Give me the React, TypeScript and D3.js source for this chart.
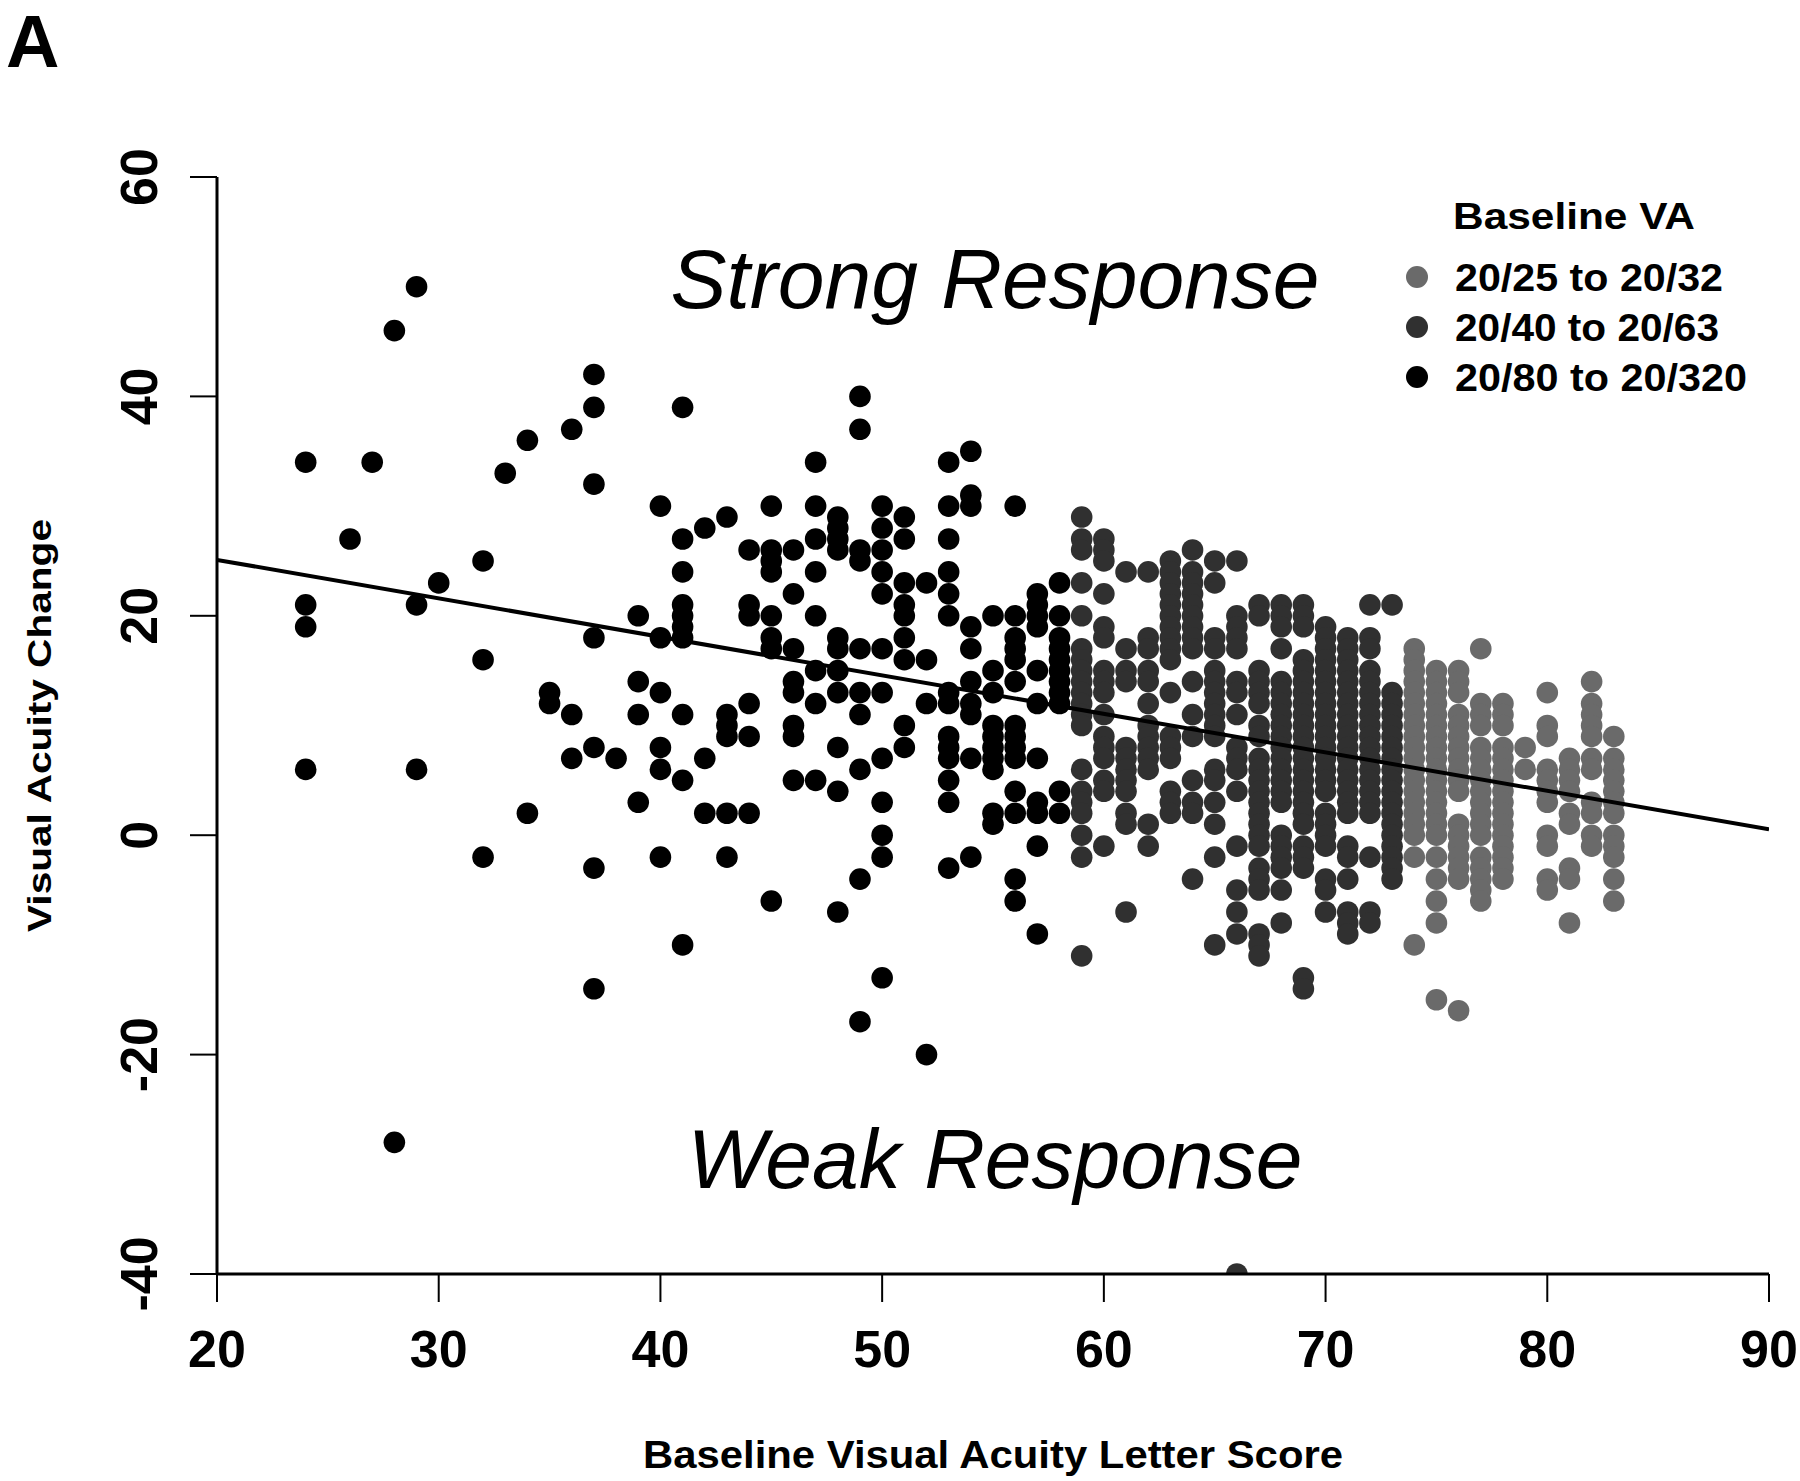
import React from "react";
import * as d3 from "d3";

const W = 1800;
const H = 1481;

const xDomain: [number, number] = [20, 90];
const yDomain: [number, number] = [-40, 60];
const xTicks = [20, 30, 40, 50, 60, 70, 80, 90];
const yTicks = [-40, -20, 0, 20, 40, 60];
const xTitle = "Baseline Visual Acuity Letter Score";
const yTitle = "Visual Acuity Change";
const panelLabel = "A";
const strongLabel = "Strong Response";
const weakLabel = "Weak Response";
const legendTitle = "Baseline VA";
const legendLabels = ["20/25 to 20/32", "20/40 to 20/63", "20/80 to 20/320"];
const legendColors = ["#6a6a6a", "#303030", "#000000"];

// regression line end points [x, y]
const fitLine: [number, number][] = [
  [20, 25.1],
  [90, 0.53],
];

// 20/80 to 20/320 : [letter score, [VA changes]]
const poorVA: [number, number[]][] = [
  [24, [34, 21, 19, 6]],
  [26, [27]],
  [27, [34]],
  [28, [46, -28]],
  [29, [50, 21, 6]],
  [30, [23]],
  [32, [25, 16, -2]],
  [33, [33]],
  [34, [36, 2]],
  [35, [13, 12]],
  [36, [37, 11, 7]],
  [37, [42, 39, 32, 18, 8, -3, -14]],
  [38, [7]],
  [39, [20, 14, 11, 3]],
  [40, [30, 18, 13, 8, 6, -2]],
  [41, [39, 27, 24, 21, 20, 19, 18, 11, 5, -10]],
  [42, [28, 7, 2]],
  [43, [29, 11, 10, 9, 2, -2]],
  [44, [26, 21, 20, 12, 9, 2]],
  [45, [30, 26, 25, 24, 20, 18, 17, -6]],
  [46, [26, 22, 17, 14, 13, 10, 9, 5]],
  [47, [34, 30, 27, 24, 20, 15, 12, 5]],
  [48, [29, 28, 27, 26, 18, 17, 15, 13, 8, 4, -7]],
  [49, [40, 37, 26, 25, 17, 13, 11, 6, -4, -17]],
  [50, [30, 28, 26, 24, 22, 17, 13, 7, 3, 0, -2, -13]],
  [51, [29, 27, 23, 21, 20, 18, 16, 10, 8]],
  [52, [23, 16, 12, -20]],
  [53, [34, 30, 27, 24, 22, 20, 13, 12, 9, 8, 7, 5, 3, -3]],
  [54, [35, 31, 30, 19, 17, 14, 12, 11, 7, -2]],
  [55, [20, 15, 13, 10, 9, 8, 7, 6, 2, 1]],
  [56, [30, 20, 18, 17, 16, 14, 10, 9, 8, 7, 4, 2, -4, -6]],
  [57, [22, 21, 20, 19, 15, 12, 7, 3, 2, -1, -9]],
  [58, [23, 20, 18, 17, 16, 15, 14, 13, 12, 4, 2]],
];

// 20/40 to 20/63
const moderateVA: [number, number[]][] = [
  [59, [29, 27, 26, 23, 20, 17, 16, 15, 14, 13, 12, 11, 10, 6, 4, 3, 2, 0, -2, -11]],
  [60, [27, 26, 25, 22, 19, 18, 15, 14, 13, 11, 9, 8, 7, 5, 4, -1]],
  [61, [24, 17, 15, 14, 8, 7, 6, 5, 4, 2, 1, -7]],
  [62, [24, 18, 17, 15, 14, 12, 10, 9, 8, 7, 6, 1, -1]],
  [63, [25, 24, 23, 22, 21, 20, 19, 18, 17, 16, 13, 9, 8, 7, 4, 3, 2]],
  [64, [26, 24, 23, 22, 21, 20, 19, 18, 17, 14, 11, 9, 5, 3, 2, -4]],
  [65, [25, 23, 18, 17, 15, 14, 13, 12, 11, 10, 9, 6, 5, 3, 1, -2, -10]],
  [66, [25, 20, 19, 18, 17, 14, 13, 11, 8, 7, 6, 4, -1, -5, -7, -9, -40]],
  [67, [21, 20, 15, 14, 13, 12, 10, 9, 7, 6, 5, 4, 3, 2, 1, 0, -1, -3, -4, -5, -9, -10, -11]],
  [68, [21, 20, 19, 17, 14, 13, 12, 11, 10, 9, 8, 7, 6, 5, 4, 3, 0, -1, -2, -3, -5, -8]],
  [69, [21, 20, 19, 16, 15, 14, 13, 12, 11, 10, 9, 8, 7, 6, 5, 4, 3, 2, 1, -1, -2, -3, -13, -14]],
  [70, [19, 18, 17, 16, 15, 14, 13, 12, 11, 10, 9, 8, 7, 6, 5, 4, 2, 1, 0, -1, -4, -5, -7]],
  [71, [18, 17, 16, 15, 14, 13, 12, 11, 10, 9, 8, 7, 6, 5, 4, 3, 2, -1, -2, -4, -7, -8, -9]],
  [72, [21, 18, 17, 15, 14, 13, 12, 11, 10, 9, 8, 7, 6, 5, 4, 3, 2, -2, -7, -8]],
  [73, [21, 13, 12, 11, 10, 9, 8, 7, 6, 5, 4, 3, 2, 1, 0, -1, -2, -3, -4]],
];

// 20/25 to 20/32
const goodVA: [number, number[]][] = [
  [74, [17, 16, 15, 14, 13, 12, 11, 10, 9, 8, 7, 6, 5, 4, 3, 2, 1, 0, -2, -10]],
  [75, [15, 14, 13, 12, 11, 10, 9, 8, 7, 6, 5, 4, 3, 2, 1, 0, -2, -4, -6, -8, -15]],
  [76, [15, 14, 13, 11, 10, 9, 8, 7, 6, 5, 4, 1, 0, -1, -2, -3, -4, -16]],
  [77, [17, 12, 11, 10, 8, 7, 6, 5, 4, 3, 2, 1, 0, -2, -3, -4, -5, -6]],
  [78, [12, 11, 10, 8, 7, 6, 5, 4, 3, 2, 1, 0, -1, -2, -3, -4]],
  [79, [8, 6]],
  [80, [13, 10, 9, 6, 5, 4, 3, 0, -1, -4, -5]],
  [81, [7, 6, 5, 4, 2, 1, -3, -4, -8]],
  [82, [14, 12, 11, 10, 9, 7, 6, 3, 2, 0, -1]],
  [83, [9, 7, 6, 5, 4, 3, 2, 0, -1, -2, -4, -6]],
];

const FONT = "'Liberation Sans', Arial, Helvetica, sans-serif";

const flatten = (cols: [number, number[]][]) =>
  cols.flatMap(([x, ys]) => ys.map((y) => ({ x, y })));

export default function App() {
  const left = 217;
  const right = 1769;
  const top = 177;
  const bottom = 1274;
  const x = d3.scaleLinear().domain(xDomain).range([left, right]);
  const y = d3.scaleLinear().domain(yDomain).range([bottom, top]);
  const r = 10.8;

  const groups = [
    { pts: flatten(poorVA), color: legendColors[2] },
    { pts: flatten(moderateVA), color: legendColors[1] },
    { pts: flatten(goodVA), color: legendColors[0] },
  ];

  const line = d3
    .line<[number, number]>()
    .x((d) => x(d[0]))
    .y((d) => y(d[1]));

  const legendX = 1417;
  const legendY0 = 277;
  const legendStep = 50;
  const legendTextLen = [268, 264, 292];

  return (
    <svg
      width={W}
      height={H}
      viewBox={`0 0 ${W} ${H}`}
      style={{ position: "absolute", left: 0, top: 0, background: "#fff" }}
      fontFamily={FONT}
    >
      <rect x={0} y={0} width={W} height={H} fill="#fff" />
      <defs>
        <clipPath id="plotClip">
          <rect x={left} y={top} width={right - left} height={bottom - top} />
        </clipPath>
      </defs>

      <text x={6} y={67} fontSize={74} fontWeight="bold" fill="#000">
        {panelLabel}
      </text>

      <g clipPath="url(#plotClip)">
        {groups.map((g, gi) => (
          <g key={gi} fill={g.color}>
            {g.pts.map((p, i) => (
              <circle key={i} cx={x(p.x)} cy={y(p.y)} r={r} />
            ))}
          </g>
        ))}
        <path d={line(fitLine) || ""} stroke="#000" strokeWidth={4} fill="none" />
      </g>

      {/* axes */}
      <line x1={left} x2={left} y1={y(yDomain[1])} y2={y(yDomain[0])} stroke="#000" strokeWidth={3} />
      <line x1={x(xDomain[0])} x2={x(xDomain[1])} y1={bottom} y2={bottom} stroke="#000" strokeWidth={3} />
      {xTicks.map((t) => (
        <g key={`xt${t}`}>
          <line x1={x(t)} x2={x(t)} y1={bottom} y2={bottom + 28} stroke="#000" strokeWidth={2} />
          <text x={x(t)} y={1367} fontSize={52} fontWeight="bold" textAnchor="middle">
            {t}
          </text>
        </g>
      ))}
      {yTicks.map((t) => (
        <g key={`yt${t}`}>
          <line x1={left - 27} x2={left} y1={y(t)} y2={y(t)} stroke="#000" strokeWidth={2} />
          <text
            transform={`translate(157,${y(t)}) rotate(-90)`}
            fontSize={52}
            fontWeight="bold"
            textAnchor="middle"
          >
            {t}
          </text>
        </g>
      ))}

      <text
        x={(left + right) / 2}
        y={1468}
        fontSize={39}
        fontWeight="bold"
        textAnchor="middle"
        textLength={700}
        lengthAdjust="spacingAndGlyphs"
      >
        {xTitle}
      </text>
      <text
        transform={`translate(51,${(top + bottom) / 2}) rotate(-90)`}
        fontSize={34}
        fontWeight="bold"
        textAnchor="middle"
        textLength={413}
        lengthAdjust="spacingAndGlyphs"
      >
        {yTitle}
      </text>

      <text x={995} y={308} fontSize={84} fontStyle="italic" textAnchor="middle">
        {strongLabel}
      </text>
      <text x={995} y={1188} fontSize={84} fontStyle="italic" textAnchor="middle">
        {weakLabel}
      </text>

      {/* legend */}
      <text x={1453} y={229} fontSize={37} fontWeight="bold" textLength={242} lengthAdjust="spacingAndGlyphs">
        {legendTitle}
      </text>
      {legendLabels.map((lab, i) => (
        <g key={lab}>
          <circle cx={legendX} cy={legendY0 + i * legendStep} r={11} fill={legendColors[i]} />
          <text
            x={1455}
            y={legendY0 + 14 + i * legendStep}
            fontSize={38}
            fontWeight="bold"
            textLength={legendTextLen[i]}
            lengthAdjust="spacingAndGlyphs"
          >
            {lab}
          </text>
        </g>
      ))}
    </svg>
  );
}
